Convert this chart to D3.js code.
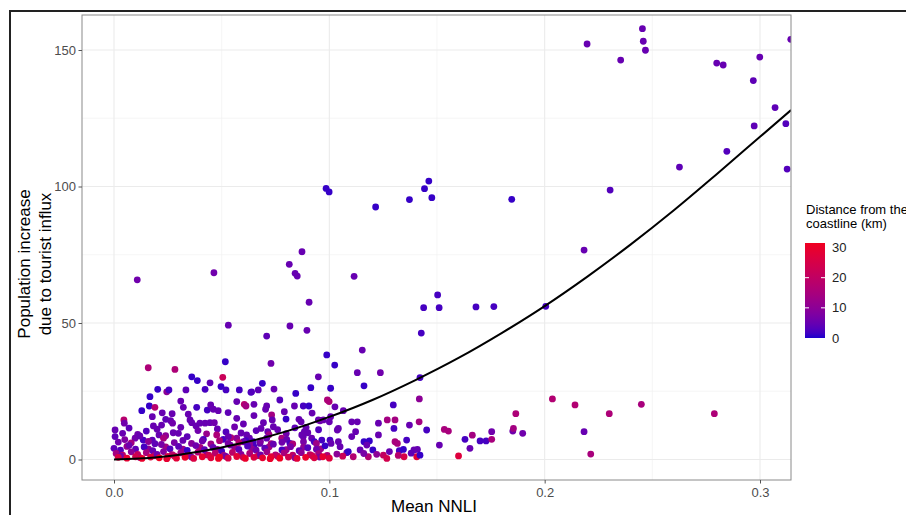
<!DOCTYPE html>
<html>
<head>
<meta charset="utf-8">
<script src="https://cdn.jsdelivr.net/npm/d3@7"></script>
<style>
    body { margin: 0; background: #fff; }
    text { font-family: "Liberation Sans", Arial, sans-serif; }
</style>
</head>
<body>
<svg id="chart" width="906" height="515"></svg>
<script>
// axis breaks
var xTicks = [0, 0.1, 0.2, 0.3],
    xMinor = [0.05, 0.15, 0.25],
    yTicks = [0, 50, 100, 150],
    yMinor = [25, 75, 125],
    legendTicks = [0, 10, 20, 30];

// fitted curve
var curveX = [0, 0.02, 0.04, 0.06, 0.08, 0.10, 0.12, 0.14, 0.16, 0.18, 0.20, 0.22, 0.24, 0.26, 0.28, 0.30, 0.3144],
    curveY = [0, 0.8, 2.9, 6.1, 10.3, 15.6, 21.8, 29.1, 37.2, 46.3, 56.2, 67.1, 78.8, 91.3, 104.6, 118.2, 128];

// [mean NNLI, population increase, distance from coastline km]
var outliers = [
    [0.2454,157.8,5],[0.2458,153.2,5],[0.2468,149.9,5],[0.2353,146.3,5],[0.2197,152.2,5],[0.2799,145.2,5],
    [0.2829,144.5,5],[0.2999,147.4,5],[0.2969,138.8,4],[0.3143,153.9,5],[0.3070,128.9,4],[0.2973,122.2,4],
    [0.3120,123.0,3],[0.2846,112.9,3],[0.2626,107.1,4],[0.3126,106.4,3],[0.2304,98.7,3],[0.2183,76.7,5],
    [0.0985,99.3,1],[0.0999,98.0,1],[0.1215,92.5,1],[0.1372,95.2,1],[0.1442,99.2,1],[0.1462,102.0,1],
    [0.1476,95.9,1],[0.1847,95.3,1],
    [0.0108,65.8,6],[0.0464,68.4,6],[0.0814,71.5,5],[0.0841,68.2,5],[0.0851,67.2,5],[0.0873,76.1,5],
    [0.0906,57.6,5],[0.1115,67.1,5],[0.0531,49.2,5],[0.0817,48.9,5],[0.0896,47.3,5],[0.0709,45.2,4],
    [0.1503,60.3,2],[0.1438,55.6,2],[0.1510,55.6,2],[0.1681,55.9,2],[0.1764,56.0,2],[0.2005,56.1,2],[0.1427,46.3,2]
];

var midPoints = [
    [0.0517,35.8,1],[0.0729,35.2,6],[0.0988,38.3,1],[0.1025,34.6,1],[0.0949,30.3,5],[0.1153,40.1,5],
    [0.1130,31.8,5],[0.1237,31.8,6],[0.1421,30.0,2],[0.1161,27.0,1],
    [0.0159,33.6,16],[0.0283,33.0,16],[0.0505,30.1,22],[0.0361,30.3,1],[0.0387,28.9,1],[0.0446,28.1,4],
    [0.0497,26.7,1],[0.0520,25.5,2],[0.0689,27.9,1],[0.0582,25.5,2],[0.0636,24.6,2],[0.0670,25.5,4],
    [0.0743,25.8,5],[0.0844,24.2,1],[0.0914,26.3,1],[0.1006,26.1,1],[0.0203,25.7,1],[0.0245,24.8,10],
    [0.0255,25.5,2],[0.0334,25.5,4],[0.0423,25.7,2],[0.0639,24.8,3],
    [0.0167,23.0,1],[0.0129,17.9,1],[0.0164,19.6,1],[0.0190,19.1,18],[0.0224,17.1,5],[0.0178,15.7,5],
    [0.0046,14.5,18],[0.0322,19.1,5],[0.0345,16.6,5],[0.0384,19.1,2],[0.0433,18.1,2],[0.0449,20.0,5],
    [0.0461,18.4,5],[0.0484,17.9,5],[0.0570,15.1,5],[0.0570,21.2,5],[0.0605,20.2,18],[0.0613,19.6,14],
    [0.0650,20.2,5],[0.0704,18.4,5],[0.0732,16.3,14],[0.0709,19.6,5],[0.0791,17.5,5],[0.0799,14.8,1],
    [0.0838,19.6,5],[0.0879,19.6,2],[0.0905,19.6,1],[0.0999,21.2,16],[0.0991,21.8,16],[0.1026,19.3,5],
    [0.1006,15.7,5],[0.1065,17.9,5],[0.1297,20.0,2],[0.1418,22.2,10],[0.2036,22.2,17],[0.2141,20.0,17],
    [0.1866,16.8,16],[0.2300,16.8,16],[0.2449,20.2,15],[0.2788,16.8,16],
    [0.027,16.8,5],[0.031,21.4,5],[0.053,17.2,4],[0.065,16.1,5],[0.077,21.8,3],[0.092,17.0,5]
];

var lowPoints = [
    [0.0048,13.3,6],[0.0183,12.3,5],[0.0221,12.6,5],[0.0240,14.7,4],[0.0263,14.2,5],[0.0272,13.3,6],
    [0.0353,14.5,5],[0.0361,13.5,5],[0.0381,12.3,5],[0.0399,13.3,5],[0.0423,13.3,5],[0.0446,13.5,5],
    [0.0466,13.5,6],[0.0601,13.0,5],[0.0694,13.5,5],[0.0735,14.5,5],[0.0740,12.0,5],[0.0683,11.4,5],
    [0.0714,10.2,5],[0.0859,14.7,5],[0.0869,13.8,5],[0.0892,11.8,5],[0.0884,10.2,5],[0.0949,14.5,5],
    [0.0972,14.5,5],[0.0957,14.2,6],[0.1000,13.8,5],[0.1037,10.8,5],[0.1042,11.4,5],[0.0005,10.8,5],
    [0.1104,13.8,5],[0.1130,13.8,5],[0.1228,13.3,5],[0.1269,14.5,14],[0.1305,14.5,14],[0.1300,11.4,2],
    [0.1372,12.6,5],[0.1417,13.8,14],[0.1452,10.8,2],[0.1534,11.0,15],[0.1553,10.4,15],[0.1754,10.2,6],
    [0.1852,10.4,6],[0.1855,11.4,14],[0.1898,9.6,6],[0.2183,10.2,5],[0.1122,10.2,5],
    [0.004,9.6,5],[0.007,11.5,4],[0.011,9.2,6],[0.015,10.4,3],[0.020,11.1,5],[0.024,8.7,10],[0.031,11.8,5],
    [0.034,8.4,4],[0.039,10.6,6],[0.043,9.4,12],[0.048,11.2,5],[0.052,10.1,3],[0.056,11.9,6],[0.059,9.7,5],
    [0.066,10.6,4],[0.072,9.1,13],[0.076,10.9,5],[0.080,9.5,6],[0.084,11.6,4],[0.090,9.8,5],[0.095,10.9,3],
    [0.0005,8.4,4],[0.0098,7.8,6],[0.0136,7.1,2],[0.0178,7.1,4],[0.0209,9.0,5],[0.0275,9.8,5],
    [0.0299,9.6,5],[0.0415,7.4,2],[0.0508,7.4,2],[0.0477,9.0,16],[0.0570,7.8,10],[0.0543,8.0,16],
    [0.0531,8.4,5],[0.0616,9.0,5],[0.0629,7.8,5],[0.0612,6.9,2],[0.0647,6.5,2],[0.0650,4.7,2],
    [0.0639,5.3,2],[0.0678,5.9,5],[0.0601,6.5,5],[0.0709,7.8,5],[0.0779,7.8,15],[0.0802,7.4,5],
    [0.0872,9.0,5],[0.0817,5.9,2],[0.0879,8.4,5],[0.0918,7.8,5],[0.0930,6.5,2],[0.0965,7.1,2],
    [0.1003,7.1,2],[0.1042,6.5,5],[0.1008,5.9,5],[0.1050,4.7,5],[0.1081,2.5,5],
    [0.1104,8.4,5],[0.1161,6.5,1],[0.1186,6.8,1],[0.1174,5.3,5],[0.1202,3.5,1],[0.1143,3.5,5],
    [0.1088,2.9,1],[0.1228,9.0,5],[0.1305,6.5,15],[0.1316,5.9,15],[0.1325,3.2,2],[0.1344,3.7,1],
    [0.1359,7.1,2],[0.1393,3.5,5],[0.1409,3.7,5],[0.1511,5.3,5],[0.1630,7.4,2],[0.1664,8.9,14],
    [0.1653,4.1,5],[0.1700,6.8,2],[0.1728,6.8,2],[0.1754,7.4,15],
    [0.1111,1.0,17],[0.1181,1.0,17],[0.1251,1.6,20],[0.1267,0.4,24],[0.1279,2.9,5],[0.1347,1.0,25],
    [0.1406,1.0,28],[0.1421,1.6,1],[0.1600,1.3,27],[0.2214,2.0,15],[0.1062,1.2,22],[0.1035,2.0,10],
    [0.1160,2.2,7],[0.1220,1.9,10],[0.1320,1.5,18],[0.1380,2.3,4]
];

// the dense band close to zero
var bandPoints = [
    [0.002,6.4,6],[0.005,7.3,8],[0.008,6.1,14],[0.012,8.6,5],[0.016,6.6,10],[0.019,5.8,4],[0.023,7.8,15],
    [0.028,6.2,7],[0.032,7.0,5],[0.036,5.9,9],[0.041,6.8,6],[0.045,5.7,13],[0.049,6.9,16],[0.053,5.9,7],
    [0.058,6.2,18],[0.063,5.6,10],[0.068,6.7,8],[0.073,5.8,14],[0.078,6.3,6],[0.083,5.7,16],[0.088,6.5,7],
    [0.094,5.9,13],
    [0.006,4.8,12],[0.016,3.9,10],[0.024,4.6,14],[0.032,3.8,12],[0.040,4.4,15],[0.048,3.7,10],[0.056,4.5,13],
    [0.064,3.9,11],[0.072,4.6,14],[0.080,3.6,12],[0.088,4.5,10],[0.096,3.9,13],
    [0.000,4.1,4],[0.003,3.4,3],[0.007,5.2,6],[0.010,3.8,4],[0.014,4.6,2],[0.018,3.2,5],[0.022,5.5,7],
    [0.026,3.9,3],[0.030,4.8,4],[0.034,3.3,1],[0.038,5.1,6],[0.042,3.6,4],[0.046,4.4,5],[0.050,3.1,2],
    [0.054,5.3,7],[0.058,3.7,4],[0.062,4.9,3],[0.066,3.4,6],[0.070,4.2,4],[0.074,5.6,5],[0.078,3.5,2],
    [0.082,4.7,7],[0.086,3.2,4],[0.090,4.3,3],[0.094,3.8,6],[0.098,5.0,1],
    [0.001,2.2,14],[0.004,1.6,18],[0.008,2.8,10],[0.011,1.9,20],[0.015,2.5,15],[0.019,1.4,19],[0.023,2.9,9],
    [0.027,1.8,17],[0.031,2.4,13],[0.035,1.5,20],[0.039,2.7,16],[0.043,1.7,10],[0.047,2.3,18],[0.051,1.5,14],
    [0.055,2.6,19],[0.059,1.9,9],[0.063,2.2,16],[0.067,1.4,20],[0.071,2.8,13],[0.075,1.7,17],[0.079,2.4,15],
    [0.083,1.6,19],[0.087,2.5,10],[0.091,1.8,18],[0.095,2.1,14],[0.099,1.5,16],
    [0.003,1.2,7],[0.012,0.7,16],[0.020,1.9,6],[0.028,1.3,21],[0.036,0.9,8],[0.044,1.6,23],[0.052,1.1,7],
    [0.060,0.8,22],[0.068,1.7,6],[0.076,1.2,20],[0.084,0.6,10],[0.092,1.4,23],[0.0955,0.9,8],
    [0.002,0.8,26],[0.006,0.5,29],[0.010,1.0,24],[0.013,0.4,30],[0.017,0.9,27],[0.021,0.6,31.5],[0.025,1.1,25],
    [0.029,0.5,28],[0.033,0.8,30],[0.037,0.4,26],[0.041,1.0,29],[0.045,0.6,27],[0.049,0.9,31],[0.053,0.5,25],
    [0.057,1.1,28],[0.061,0.4,30],[0.065,0.8,26],[0.069,0.6,29],[0.073,1.0,27],[0.077,0.5,31],[0.081,0.9,24],
    [0.085,0.4,28],[0.089,0.8,30],[0.093,0.6,26],[0.097,1.0,29],[0.100,0.5,27],
    [0.0725,0.3,30],[0.0485,0.4,31],[0.0245,0.3,29]
];

var points = outliers.concat(midPoints, lowPoints, bandPoints);

var panel = {left: 82, right: 791, top: 15, bottom: 480};

var svg = d3.select("#chart");

var x = d3.scaleLinear().domain([0, 0.3]).range([114, 760]),
    y = d3.scaleLinear().domain([0, 150]).range([459.5, 50]),
    distMax = 31.5,
    color = d3.scaleLinear().domain([0, distMax]).range(["#1c00cc", "#f00020"]).interpolate(d3.interpolateLab),
    legendY = d3.scaleLinear().domain([0, distMax]).range([338, 243]);

// outer frame
svg.append("rect")
    .attr("x", 10).attr("y", 11)
    .attr("width", 1000).attr("height", 1000)
    .attr("fill", "none").attr("stroke", "#222").attr("stroke-width", 2);

svg.append("clipPath").attr("id", "panelClip")
    .append("rect")
    .attr("x", panel.left).attr("y", panel.top)
    .attr("width", panel.right - panel.left).attr("height", panel.bottom - panel.top);

var grid = svg.append("g");
grid.selectAll(".vminor").data(xMinor).enter().append("line")
    .attr("x1", x).attr("x2", x).attr("y1", panel.top).attr("y2", panel.bottom)
    .attr("stroke", "#f0f0f0").attr("stroke-width", 0.6);
grid.selectAll(".hminor").data(yMinor).enter().append("line")
    .attr("y1", y).attr("y2", y).attr("x1", panel.left).attr("x2", panel.right)
    .attr("stroke", "#f0f0f0").attr("stroke-width", 0.6);
grid.selectAll(".vmajor").data(xTicks).enter().append("line")
    .attr("x1", x).attr("x2", x).attr("y1", panel.top).attr("y2", panel.bottom)
    .attr("stroke", "#ebebeb").attr("stroke-width", 1.1);
grid.selectAll(".hmajor").data(yTicks).enter().append("line")
    .attr("y1", y).attr("y2", y).attr("x1", panel.left).attr("x2", panel.right)
    .attr("stroke", "#ebebeb").attr("stroke-width", 1.1);

var plot = svg.append("g").attr("clip-path", "url(#panelClip)");

plot.selectAll("circle").data(points).enter().append("circle")
    .attr("cx", function(d) { return x(d[0]); })
    .attr("cy", function(d) { return y(d[1]); })
    .attr("r", 3.4)
    .attr("fill", function(d) { return color(d[2]); });

var line = d3.line()
    .x(function(d) { return x(d); })
    .y(function(d, i) { return y(curveY[i]); })
    .curve(d3.curveMonotoneX);

plot.append("path")
    .datum(curveX)
    .attr("fill", "none")
    .attr("stroke", "#000")
    .attr("stroke-width", 2)
    .attr("d", line);

// panel border
svg.append("rect")
    .attr("x", panel.left).attr("y", panel.top)
    .attr("width", panel.right - panel.left).attr("height", panel.bottom - panel.top)
    .attr("fill", "none").attr("stroke", "#8a8a8a").attr("stroke-width", 1);

// axes
var yAxis = svg.append("g")
    .attr("transform", "translate(" + panel.left + ",0)")
    .call(d3.axisLeft(y).tickValues(yTicks).tickSize(3.5).tickPadding(2.5));
var xAxis = svg.append("g")
    .attr("transform", "translate(0," + panel.bottom + ")")
    .call(d3.axisBottom(x).tickValues(xTicks).tickFormat(d3.format(".1f")).tickSize(3.5).tickPadding(4.5));

[xAxis, yAxis].forEach(function(ax) {
    ax.select(".domain").remove();
    ax.selectAll(".tick line").attr("stroke", "#555");
    ax.selectAll(".tick text")
        .attr("fill", "#4d4d4d")
        .style("font-size", "13px")
        .style("font-family", "'Liberation Sans', Arial, sans-serif");
});

svg.append("text")
    .attr("x", 434).attr("y", 512)
    .attr("text-anchor", "middle")
    .style("font-size", "17px")
    .text("Mean NNLI");

var yTitle = svg.append("g").attr("transform", "rotate(-90)");
yTitle.append("text")
    .attr("x", -264).attr("y", 30)
    .attr("text-anchor", "middle")
    .style("font-size", "17px")
    .text("Population increase");
yTitle.append("text")
    .attr("x", -264).attr("y", 50.5)
    .attr("text-anchor", "middle")
    .style("font-size", "17px")
    .text("due to tourist influx");

// colour bar legend
var legend = svg.append("g");
legend.append("text").attr("x", 806).attr("y", 213.5).style("font-size", "13px").text("Distance from the");
legend.append("text").attr("x", 806).attr("y", 227.5).style("font-size", "13px").text("coastline (km)");

var grad = svg.append("defs").append("linearGradient")
    .attr("id", "distGrad")
    .attr("x1", 0).attr("y1", 1).attr("x2", 0).attr("y2", 0);
grad.selectAll("stop").data(d3.range(0, 1.0001, 0.05)).enter().append("stop")
    .attr("offset", function(t) { return t; })
    .attr("stop-color", function(t) { return color(t * distMax); });

legend.append("rect")
    .attr("x", 805).attr("y", legendY(distMax))
    .attr("width", 20).attr("height", legendY(0) - legendY(distMax))
    .attr("fill", "url(#distGrad)");

var inner = legendTicks.filter(function(v) { return v > 0 && v < 30; });
legend.selectAll(".tl").data(inner).enter().append("line")
    .attr("x1", 805).attr("x2", 809)
    .attr("y1", legendY).attr("y2", legendY)
    .attr("stroke", "#fff").attr("stroke-width", 1);
legend.selectAll(".tr").data(inner).enter().append("line")
    .attr("x1", 821).attr("x2", 825)
    .attr("y1", legendY).attr("y2", legendY)
    .attr("stroke", "#fff").attr("stroke-width", 1);

legend.selectAll(".lab").data(legendTicks).enter().append("text")
    .attr("x", 832)
    .attr("y", function(v) { return legendY(v) + 4.6; })
    .attr("fill", "#222")
    .style("font-size", "13px")
    .text(function(v) { return v; });
</script>
</body>
</html>
